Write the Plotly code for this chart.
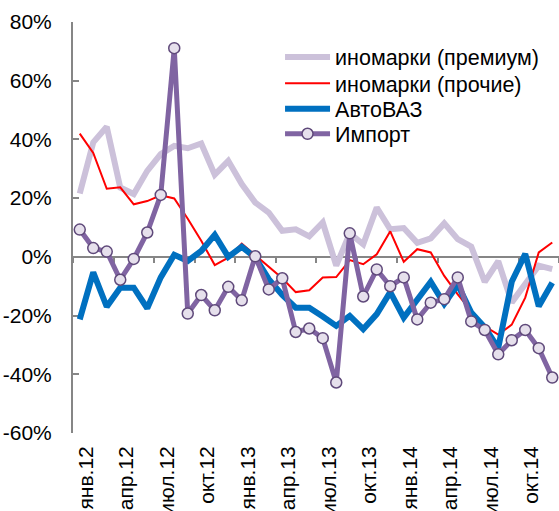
import plotly.graph_objects as go

months = []
for yy in ["12", "13", "14"]:
    for m in ["янв.", "фев.", "мар.", "апр.", "май.", "июн.", "июл.", "авг.", "сен.", "окт.", "ноя.", "дек."]:
        months.append(m + yy)

premium = [21.6, 39.0, 44.3, 23.6, 21.4, 29.3, 35.0, 37.8, 37.0, 38.6, 28.0, 32.7,
           24.8, 18.5, 15.1, 8.9, 9.4, 7.0, 11.7, -3.0, 8.0, 4.3, 16.8, 9.4,
           9.8, 4.8, 6.3, 11.4, 6.0, 3.5, -8.5, -1.5, -15.5, -9.5, -3.0, -4.2]
other = [42.0, 35.4, 23.2, 23.7, 17.9, 19.0, 21.0, 19.9, 13.0, 5.5, -2.8, -0.3,
         4.5, 0.5, -3.6, -7.3, -12.0, -11.4, -7.0, -6.9, -1.1, -2.5, 0.9, 8.7,
         -1.7, 2.6, 1.5, -6.5, -12.8, -18.5, -23.7, -26.5, -23.1, -13.9, 1.5, 4.9]
avtovaz = [-21.3, -5.3, -17.0, -10.5, -10.5, -17.5, -7.0, 0.7, -1.4, 2.0, 7.5, 0.0,
           3.4, -0.2, -7.6, -13.0, -17.3, -17.3, -20.3, -23.5, -20.1, -24.6, -19.5, -12.0,
           -20.7, -15.0, -8.5, -16.0, -9.5, -19.0, -24.0, -31.0, -8.5, 1.0, -16.8, -8.8]
imports = [9.3, 3.0, 1.8, -7.8, -0.7, 8.3, 21.1, 71.1, -19.3, -13.0, -18.2, -10.2,
           -14.8, 0.2, -11.1, -7.3, -25.6, -24.4, -27.7, -42.8, 8.0, -13.5, -4.3, -10.0,
           -7.0, -21.3, -15.6, -14.4, -7.0, -22.0, -24.9, -33.2, -28.4, -24.9, -31.1, -41.1]

y_ticks = [-60, -40, -20, 0, 20, 40, 60, 80]
y_ticktext = [f"{v}%" for v in y_ticks]

FONT = "Arial, Liberation Sans, sans-serif"
AXIS_GRAY = "#868686"

fig = go.Figure()
fig.add_trace(go.Scatter(x=months, y=premium, name="иномарки (премиум)", mode="lines",
                         line=dict(color="#CCC1DA", width=6), legend="legend"))
fig.add_trace(go.Scatter(x=months, y=other, name="иномарки (прочие)", mode="lines",
                         line=dict(color="#FF0000", width=2), legend="legend2"))
fig.add_trace(go.Scatter(x=months, y=avtovaz, name="АвтоВАЗ", mode="lines",
                         line=dict(color="#0070C0", width=6), legend="legend3"))
fig.add_trace(go.Scatter(x=months, y=imports, name="Импорт", mode="lines+markers",
                         line=dict(color="#8064A2", width=5),
                         marker=dict(size=11, color="#E6E0EC",
                                     line=dict(color="#5F497A", width=1.5)),
                         legend="legend4"))

y_min, y_max = y_ticks[0], y_ticks[-1]

def leg(ypos):
    return dict(x=0.426, y=ypos, xanchor="left", yanchor="middle",
                bgcolor="rgba(0,0,0,0)", itemwidth=45, borderwidth=0,
                font=dict(size=21.5, family=FONT, color="black"))

fig.update_layout(
    width=559, height=511,
    margin=dict(l=73, r=0, t=22, b=78),
    paper_bgcolor="white", plot_bgcolor="white",
    font=dict(family=FONT, size=21, color="black"),
    showlegend=True,
    legend=leg(0.915),
    legend2=leg(0.851),
    legend3=leg(0.789),
    legend4=leg(0.728),
    xaxis=dict(type="category", range=[-0.5, len(months) - 0.5],
               tickmode="linear", tick0=0, dtick=3, tickson="boundaries",
               tickangle=-90, anchor="free", position=(0 - y_min) / (y_max - y_min),
               showline=True, linecolor=AXIS_GRAY, linewidth=2,
               ticks="outside", ticklen=5, tickwidth=2, tickcolor=AXIS_GRAY,
               showgrid=False, zeroline=False, automargin=False,
               ticklabelstandoff=180, ticklabelshift=6, layer="below traces"),
    yaxis=dict(range=[y_min, y_max], tickmode="array", tickvals=y_ticks,
               ticktext=y_ticktext, showline=True, linecolor=AXIS_GRAY,
               linewidth=2, ticks="inside", ticklen=6, tickwidth=2,
               tickcolor=AXIS_GRAY, showgrid=False, zeroline=False,
               automargin=False, ticklabelstandoff=15, layer="below traces"),
)

fig.write_html("out.html", config={"displayModeBar": False},
               post_script="document.body.style.margin='0';")
